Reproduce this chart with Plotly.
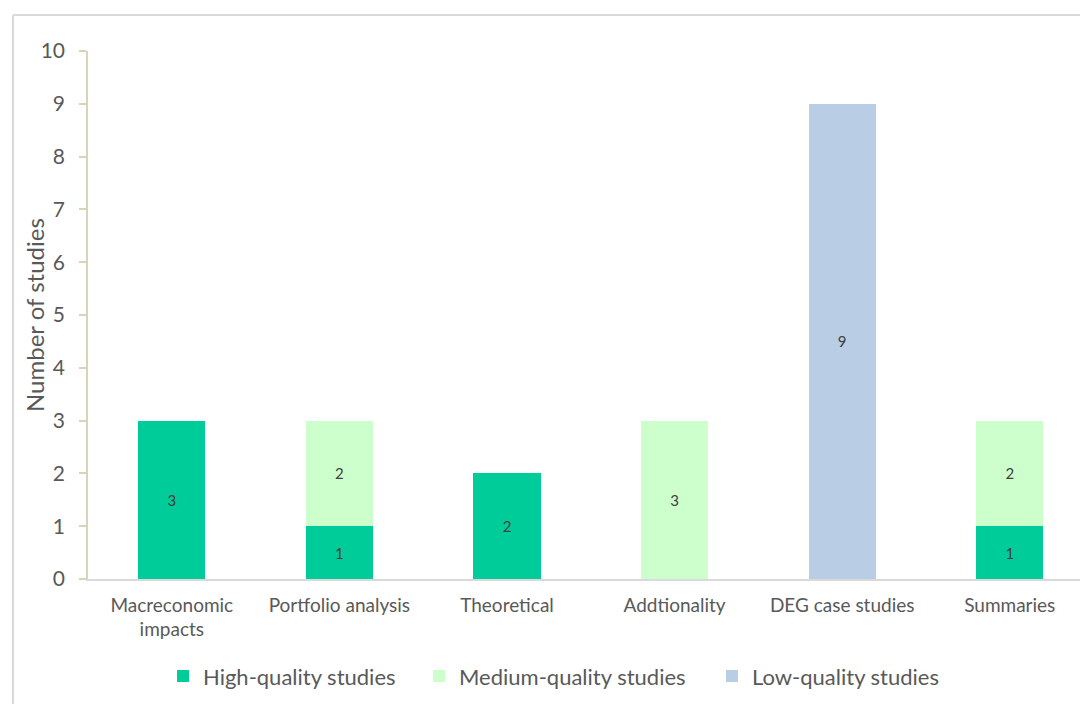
import plotly.graph_objects as go

categories = ["Macreconomic<br>impacts", "Portfolio analysis", "Theoretical",
              "Addtionality", "DEG case studies", "Summaries"]
high_quality = [3, 1, 2, 0, 0, 1]
medium_quality = [0, 2, 0, 3, 0, 2]
low_quality = [0, 0, 0, 0, 9, 0]
y_ticks = [0, 1, 2, 3, 4, 5, 6, 7, 8, 9, 10]

series = [
    ("High-quality studies", high_quality, "#00CC99"),
    ("Medium-quality studies", medium_quality, "#CCFFCC"),
    ("Low-quality studies", low_quality, "#B9CDE5"),
]

FONT = "Lato, Noto Sans, sans-serif"
TEXT_GREY = "#595959"
PLOT_LEFT, PLOT_W = 88, 992

# one legend per series so the entries can be spaced freely along the bottom
legend_ids = ["legend", "legend2", "legend3"]
legend_left_px = [163, 419, 712]

fig = go.Figure()
for (name, vals, color), lid in zip(series, legend_ids):
    shown = [v if v else None for v in vals]
    fig.add_trace(go.Bar(
        name=name,
        x=categories,
        y=shown,
        legend=lid,
        marker=dict(color=color, line=dict(width=0)),
        text=[str(v) if v else "" for v in vals],
        textposition="inside",
        insidetextanchor="middle",
        textangle=0,
        textfont=dict(family=FONT, size=15, color="#404040"),
        hoverinfo="skip",
    ))

legend_style = dict(
    orientation="h",
    yanchor="middle", y=-0.184,
    xanchor="left",
    font=dict(family=FONT, size=22, color=TEXT_GREY),
    itemclick=False, itemdoubleclick=False,
    bgcolor="rgba(0,0,0,0)",
)

fig.update_layout(
    width=1080, height=704,
    barmode="stack",
    bargap=0.6,
    plot_bgcolor="white",
    paper_bgcolor="white",
    margin=dict(l=PLOT_LEFT, r=0, t=51, b=125),
    font=dict(family=FONT, color=TEXT_GREY),
    showlegend=True,
    uniformtext=dict(minsize=10, mode="show"),
    **{lid: dict(legend_style, x=(px - PLOT_LEFT) / PLOT_W)
       for lid, px in zip(legend_ids, legend_left_px)},
)

fig.update_xaxes(
    range=[-0.5, 5.419],
    showgrid=False,
    showline=True,
    linecolor="#D9D9D9",
    linewidth=1.5,
    ticks="",
    ticklabelstandoff=8,
    tickfont=dict(family=FONT, size=19, color=TEXT_GREY),
)

fig.update_yaxes(
    range=[0, 10],
    tickvals=y_ticks,
    showgrid=False,
    zeroline=False,
    showline=True,
    linecolor="#D9D4B8",
    linewidth=1.5,
    ticks="outside",
    ticklen=7,
    tickcolor="#D9D4B8",
    tickwidth=1.5,
    ticklabelstandoff=10,
    tickfont=dict(family=FONT, size=21, color=TEXT_GREY),
)

# y-axis title
fig.add_annotation(
    text="Number of studies", textangle=-90,
    xref="paper", yref="paper", x=(34 - PLOT_LEFT) / PLOT_W, y=0.5,
    xanchor="center", yanchor="middle", showarrow=False,
    font=dict(family=FONT, size=24, color=TEXT_GREY),
)

# outer chart frame (left and top edges visible)
frame = dict(type="line", xref="paper", yref="paper", line=dict(color="#D9D9D9", width=2))
fig.add_shape(**frame, x0=-75 / PLOT_W, x1=-75 / PLOT_W, y0=1.068, y1=-0.3)
fig.add_shape(**frame, x0=-75 / PLOT_W, x1=1.01, y0=1.068, y1=1.068)

fig.write_html("out.html")
